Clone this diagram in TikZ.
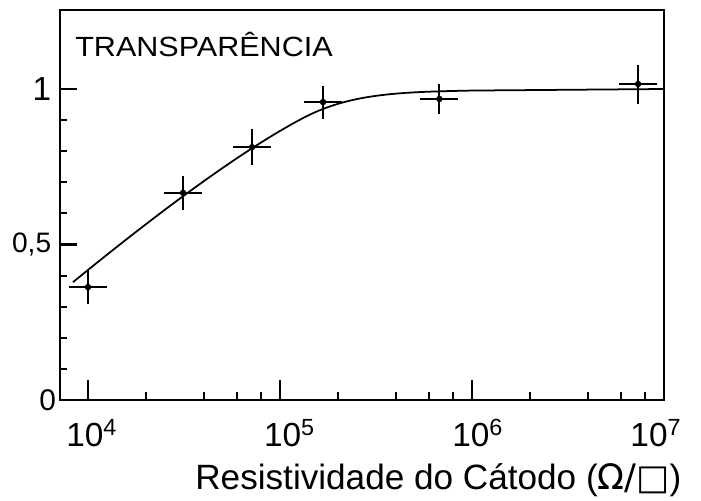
\documentclass[tikz,border=0pt]{standalone}
\usepackage{fontspec}
\setmainfont{Liberation Sans}
\newfontfamily\symfont{DejaVu Sans}
\usetikzlibrary{positioning,calc}

\begin{document}
\begin{tikzpicture}[x={(3.84cm,0)}, y={(0,6.22cm)}]

        % Setup the styles for the plot
        \tikzset{axis style/.style={line width=1.5pt},
                 tick style/.style={line width=1.2pt},
                 bar style/.style={line width=1.2pt},
                 curve style/.style={line width=1pt},
                 dot style/.style={circle, fill, inner sep=0pt, minimum size=1.3mm},
                 num style/.style={font=\fontsize{19}{19}\selectfont, inner sep=0pt}}

        \useasboundingbox (-0.4583,-0.3215) rectangle (3.1927,1.2862);

        % Draw the frame
        \draw[axis style] (-0.1458,0) rectangle (3,1.254);

        % Draw the ticks
        \foreach \t in {0.1,0.2,0.3,0.4,0.6,0.7,0.8,0.9}
            \draw[tick style] (-0.1458,\t) -- ++(0.035,0);
        \foreach \t in {0.5,1}
            \draw[tick style] (-0.1458,\t) -- ++(0.09,0);
        \foreach \d in {0,1,2}{
            \draw[tick style] (\d,0) -- ++(0,0.064);
            \foreach \m in {2,4,6,8}
                \draw[tick style] ({\d+log10(\m)},0) -- ++(0,0.026);
        }

        % Draw the labels
        \node[num style, anchor=east] (one)  at (-0.19,1)    {1};
        \node[num style, anchor=east, font=\fontsize{16}{16}\selectfont] (half) at (-0.19,0.5) {0,5};
        \node[num style, anchor=east, font=\fontsize{17}{17}\selectfont] (zero) at (-0.165,0) {0};
        \node[num style, anchor=base] (dec4) at (0.02,-0.151)  {10\textsuperscript{4}};
        \node[num style, anchor=base] (dec5) at (1.05,-0.151)  {10\textsuperscript{5}};
        \node[num style, anchor=base] (dec6) at (2.03,-0.151)  {10\textsuperscript{6}};
        \node[num style, anchor=base] (dec7) at (2.958,-0.151) {10\textsuperscript{7}};
        \node[anchor=base west, inner sep=0pt, font=\fontsize{15.8}{16}\selectfont, xscale=1.1]
            (title) at (-0.068,1.103) {TRANSPARÊNCIA};
        \node[anchor=base, inner sep=0pt, font=\fontsize{20}{21}\selectfont]
            (xlabel) at (1.825,-0.289) {Resistividade do Cátodo ({\symfont Ω/□})};

        % Draw the fitted curve
        \draw[curve style] (-0.078,0.379) .. controls (0.4,0.62) and (0.8,0.80) .. (1.1,0.90)
            .. controls (1.35,0.985) and (1.6,0.99) .. (2.0,0.995) -- (3,1);

        % Draw the data points with their error bars
        \foreach \n/\px/\py/\ey in {1/0/0.363/0.34, 2/0.495/0.666/0.34, 3/0.854/0.813/0.36,
                                     4/1.224/0.958/0.33, 5/1.83/0.968/0.3, 6/2.865/1.016/0.39}{
            \node[dot style] (p\n) at (\px,\py) {};
            \draw[bar style] ([xshift=-0.38cm]p\n.center) -- ([xshift=0.38cm]p\n.center);
            \draw[bar style] ([yshift=-\ey cm]p\n.center) -- ([yshift=\ey cm]p\n.center);
        }

\end{tikzpicture}
\end{document}
